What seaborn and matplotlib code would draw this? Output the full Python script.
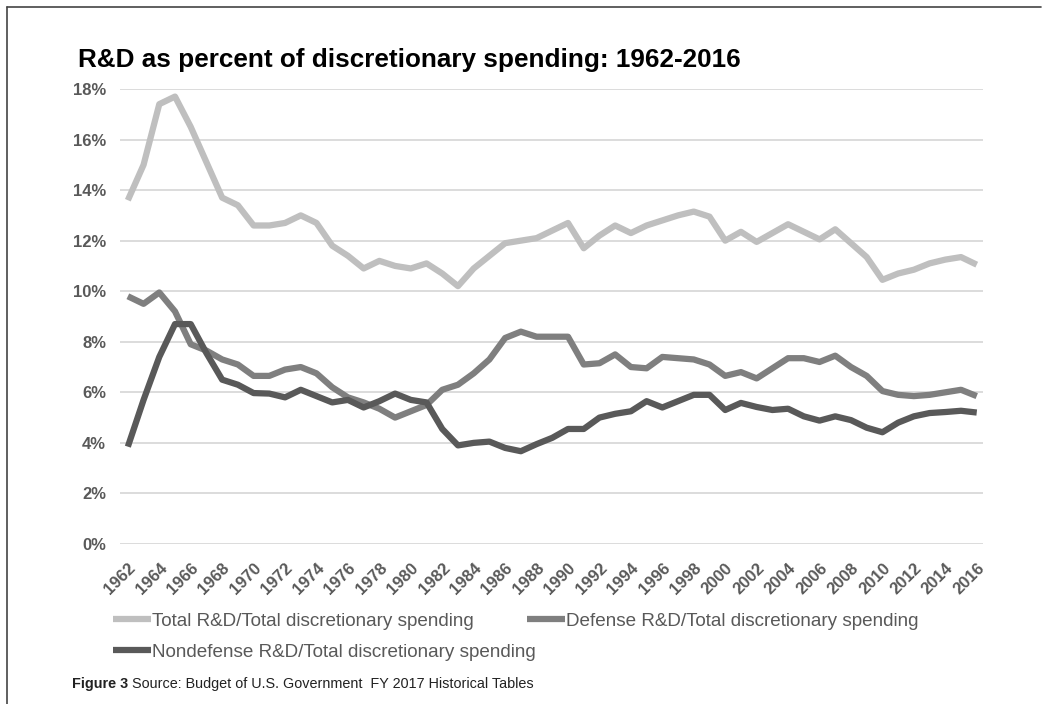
import pandas as pd
import matplotlib.pyplot as plt
import seaborn as sns
from matplotlib.ticker import PercentFormatter
from matplotlib.lines import Line2D

# Values (share of discretionary spending, %)
years = list(range(1962, 2017))

total_rd = [13.6, 15.0, 17.4, 17.7, 16.5, 15.1, 13.7, 13.4, 12.6, 12.6,
            12.7, 13.0, 12.7, 11.8, 11.4, 10.9, 11.2, 11.0, 10.9, 11.1,
            10.7, 10.2, 10.9, 11.4, 11.9, 12.0, 12.1, 12.4, 12.7, 11.7,
            12.2, 12.6, 12.3, 12.6, 12.8, 13.0, 13.15, 12.95, 12.0, 12.35,
            11.95, 12.3, 12.65, 12.35, 12.05, 12.45, 11.9, 11.35, 10.45, 10.7,
            10.85, 11.1, 11.25, 11.35, 11.05]

defense_rd = [9.8, 9.5, 9.95, 9.2, 7.9, 7.65, 7.3, 7.1, 6.65, 6.65,
              6.9, 7.0, 6.75, 6.2, 5.8, 5.6, 5.35, 5.0, 5.25, 5.5,
              6.1, 6.3, 6.75, 7.3, 8.15, 8.4, 8.2, 8.2, 8.2, 7.1,
              7.15, 7.5, 7.0, 6.95, 7.4, 7.35, 7.3, 7.1, 6.65, 6.8,
              6.55, 6.95, 7.35, 7.35, 7.2, 7.45, 7.0, 6.65, 6.05, 5.9,
              5.85, 5.9, 6.0, 6.1, 5.85]

nondefense_rd = [3.85, 5.7, 7.4, 8.7, 8.7, 7.55, 6.5, 6.3, 5.97, 5.95,
                 5.8, 6.1, 5.85, 5.6, 5.7, 5.4, 5.65, 5.95, 5.7, 5.6,
                 4.55, 3.9, 4.0, 4.05, 3.8, 3.67, 3.95, 4.2, 4.55, 4.55,
                 5.0, 5.15, 5.25, 5.65, 5.4, 5.65, 5.9, 5.9, 5.3, 5.58,
                 5.42, 5.3, 5.35, 5.05, 4.88, 5.05, 4.9, 4.6, 4.42, 4.8,
                 5.05, 5.18, 5.22, 5.27, 5.2]

labels = ['Total R&D/Total discretionary spending',
          'Defense R&D/Total discretionary spending',
          'Nondefense R&D/Total discretionary spending']
colors = ['#bfbfbf', '#7f7f7f', '#595959']

df = pd.DataFrame({'Year': years, labels[0]: total_rd,
                   labels[1]: defense_rd, labels[2]: nondefense_rd})
long_df = df.melt(id_vars='Year', var_name='Series', value_name='Pct')

sns.set_theme(style='white')
plt.rcParams['font.family'] = ['Liberation Sans', 'DejaVu Sans']

fig = plt.figure(figsize=(10.47, 7.04), dpi=100)
ax = fig.add_axes([0.1146, 0.2273, 0.8243, 0.6463])

sns.lineplot(data=long_df, x='Year', y='Pct', hue='Series', hue_order=labels,
             palette=dict(zip(labels, colors)), linewidth=4.5, ax=ax,
             legend=False)
for line in ax.get_lines():
    line.set_solid_capstyle('butt')
    line.set_solid_joinstyle('round')

ax.set_xlim(1961.5, 2016.4)
ax.set_ylim(0, 18)
ax.set_yticks(range(0, 19, 2))
ax.yaxis.set_major_formatter(PercentFormatter(decimals=0))
ax.set_xticks(years[::2])
ax.set_xticklabels([str(y) for y in years[::2]], rotation=45, ha='right',
                   rotation_mode='anchor')
ax.tick_params(axis='both', length=0, labelsize=12, labelcolor='#595959')
ax.tick_params(axis='y', pad=10)
ax.tick_params(axis='x', pad=12)
for lbl in ax.get_xticklabels() + ax.get_yticklabels():
    lbl.set_fontweight('bold')
ax.grid(axis='y', color='#d9d9d9', linewidth=1.3)
ax.grid(axis='x', visible=False)
ax.set_axisbelow(True)
sns.despine(ax=ax, left=True, bottom=True)
ax.set_xlabel('')
ax.set_ylabel('')

fig.text(0.0745, 0.915, 'R&D as percent of discretionary spending: 1962-2016',
         fontsize=18.8, fontweight='bold', color='black', va='center')

# legend: total and nondefense in first column, defense in second
# (negative column spacing because the defense entry starts before the
# end of the long nondefense label, like the Excel original)
order = [0, 2, 1]
handles = [Line2D([], [], color=colors[i], linewidth=4.5, solid_capstyle='butt') for i in order]
fig.legend(handles, [labels[i] for i in order], ncol=2, frameon=False,
           loc='upper left', bbox_to_anchor=(0.108, 0.13), borderpad=0,
           borderaxespad=0, handlelength=2.0, handletextpad=0.05,
           columnspacing=-0.45, labelspacing=0.75, fontsize=13.6,
           labelcolor='#595959')

# caption: bold figure number followed by the source note
renderer = fig.canvas.get_renderer()
fig_num = fig.text(0.069, 0.029, 'Figure 3', fontsize=10.4, fontweight='bold',
                   color='#222222', va='center')
bb = fig_num.get_window_extent(renderer=renderer)
fig.text((bb.x1 + 4) / fig.bbox.width, 0.029,
         'Source: Budget of U.S. Government  FY 2017 Historical Tables',
         fontsize=10.4, color='#222222', va='center')

# thin frame round the whole picture
fig.add_artist(Line2D([0.0067, 0.0067], [0, 0.99], color='#444444', linewidth=1.2))
fig.add_artist(Line2D([0.0067, 0.994], [0.99, 0.99], color='#444444', linewidth=1.2))

fig.savefig('out.png', dpi=100)
